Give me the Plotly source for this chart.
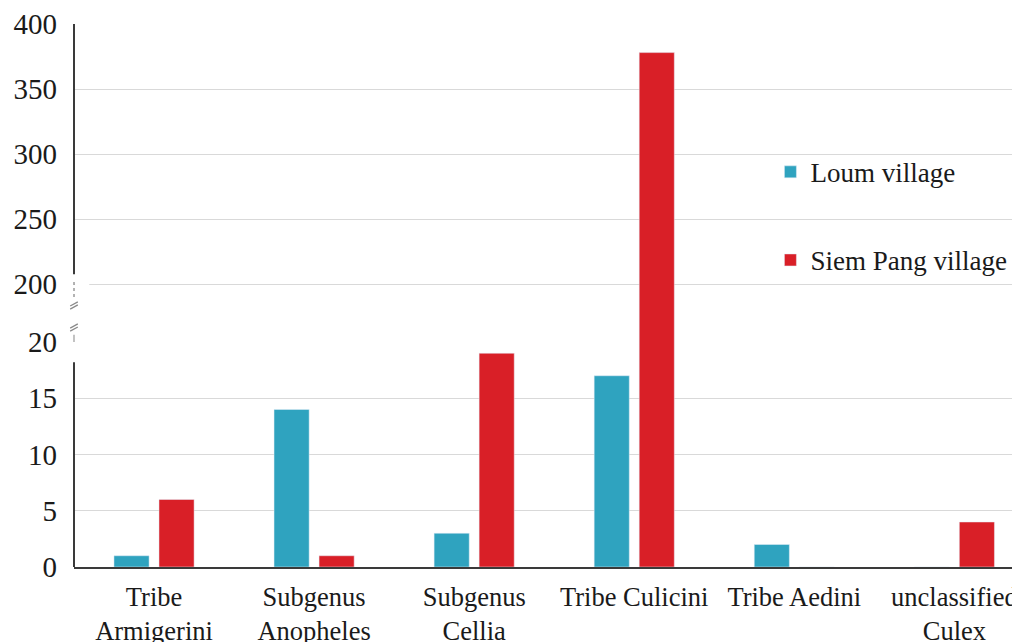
import plotly.graph_objects as go

categories = ["Tribe<br>Armigerini", "Subgenus<br>Anopheles", "Subgenus<br>Cellia",
              "Tribe Culicini", "Tribe Aedini", "unclassified<br>Culex"]
loum = [1, 14, 3, 17, 2, 0]
siem = [6, 1, 19, 378, 0, 4]
low_ticks = [0, 5, 10, 15, 20]
high_ticks = [200, 250, 300, 350, 400]

C_LOUM = "#2fa3bf"
C_SIEM = "#d91f27"
FONT = "'Liberation Serif', 'Times New Roman', 'DejaVu Serif', serif"
AX = "#3a3a3a"

fig = go.Figure()
# lower panel (0-20)
fig.add_trace(go.Bar(x=categories, y=loum, name="Loum village", marker_color=C_LOUM,
                     xaxis="x", yaxis="y", legendgroup="a"))
fig.add_trace(go.Bar(x=categories, y=siem, name="Siem Pang village", marker_color=C_SIEM,
                     xaxis="x", yaxis="y", legendgroup="b"))
# upper panel (200-400)
fig.add_trace(go.Bar(x=categories, y=loum, name="Loum village", marker_color=C_LOUM,
                     xaxis="x", yaxis="y2", showlegend=False))
fig.add_trace(go.Bar(x=categories, y=siem, name="Siem Pang village", marker_color=C_SIEM,
                     xaxis="x", yaxis="y2", showlegend=False))

H_PLOT = 543.0
low_top = 225.0 / H_PLOT
up_per_px = 200.0 / 260.0
up_min = 200 - 58 * up_per_px

shapes = [
    # hide grid starts near the break
    dict(type="rect", xref="paper", yref="y2", x0=0.001, x1=0.016, y0=150, y1=206,
         fillcolor="white", line_width=0, layer="above"),
    # left axis segments
    dict(type="line", xref="paper", yref="y", x0=0, x1=0, y0=0, y1=18.2,
         line=dict(color=AX, width=2)),
    dict(type="line", xref="paper", yref="y2", x0=0, x1=0, y0=207.5, y1=400,
         line=dict(color=AX, width=2)),
    # dotted piece under upper axis
    dict(type="line", xref="paper", yref="y2", x0=0, x1=0, y0=190, y1=201.5,
         line=dict(color="#9a9a9a", width=1.5, dash="dot")),
    # thin piece above lower axis
    dict(type="line", xref="paper", yref="y2", x0=0, x1=0, y0=150, y1=161,
         line=dict(color="#9a9a9a", width=1.2)),
]
# break marks (double slanted strokes)
for yc in (183.5, 166.5):
    for dy in (-1.2, 1.2):
        shapes.append(dict(type="line", xref="paper", yref="y2",
                           x0=-0.004, x1=0.004, y0=yc + dy - 1.6, y1=yc + dy + 1.6,
                           line=dict(color="#8a8a8a", width=1.3)))

fig.update_layout(
    width=1020, height=642,
    margin=dict(l=66, r=0, t=16, b=83),
    paper_bgcolor="white", plot_bgcolor="white",
    barmode="group", bargap=0.4375, bargroupgap=0.22,
    font=dict(family=FONT, size=27, color="#1a1a1a"),
    xaxis=dict(type="category", range=[-0.5, 5.46], showline=True, linecolor=AX,
               linewidth=2, ticks="", showgrid=False, anchor="y", automargin=False,
               tickfont=dict(size=26.5), ticklabelstandoff=5),
    yaxis=dict(domain=[0, low_top], range=[0, 20], tickvals=low_ticks, automargin=False,
               showgrid=True, gridcolor="#d9d9d9", gridwidth=1, zeroline=False,
               showline=False, ticks="", tickfont=dict(size=29), ticklabelstandoff=16),
    yaxis2=dict(domain=[low_top, 1], range=[up_min, 400], tickvals=high_ticks,
                automargin=False,
                showgrid=True, gridcolor="#d9d9d9", gridwidth=1, zeroline=False,
                showline=False, ticks="", anchor="x", tickfont=dict(size=29),
                ticklabelstandoff=16),
    legend=dict(x=0.73, y=0.772, xanchor="left", yanchor="top",
                bgcolor="rgba(0,0,0,0)", font=dict(size=27),
                tracegroupgap=50, traceorder="grouped"),
    shapes=shapes,
)

fig.write_html("out.html")
